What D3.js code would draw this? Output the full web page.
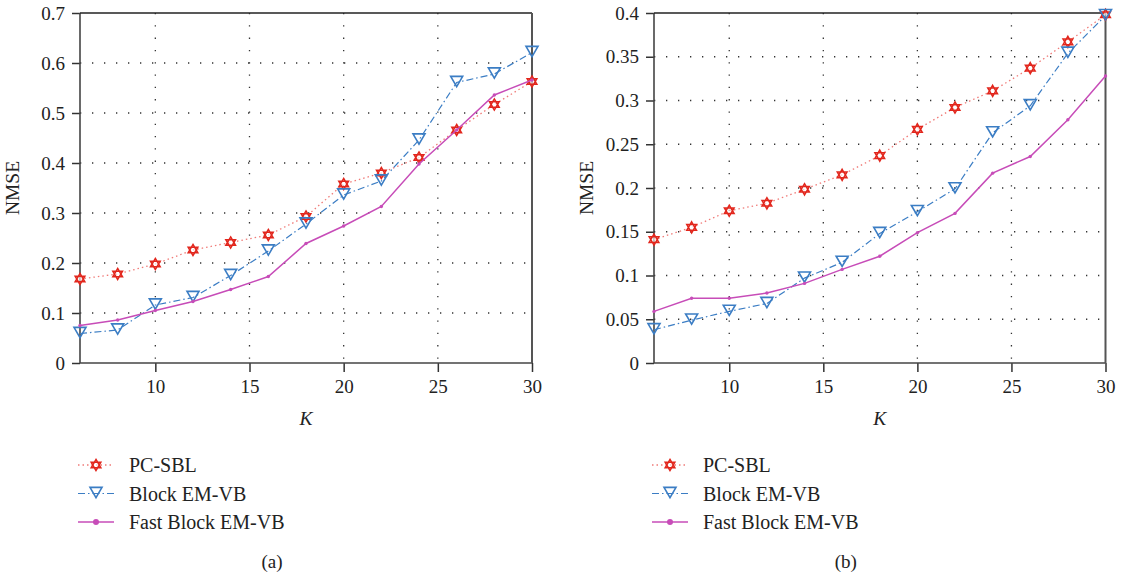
<!DOCTYPE html>
<html>
<head>
<meta charset="utf-8">
<script src="https://cdn.jsdelivr.net/npm/d3@7/dist/d3.min.js"></script>
<style>
  body { margin: 0; background: #fff; }
  svg text { font-family: "Liberation Serif", "DejaVu Serif", serif !important; fill: #222; }
</style>
</head>
<body>
<svg id="chart" width="1124" height="576"></svg>
<script>
// K values (x axis)
var kValues = [6, 8, 10, 12, 14, 16, 18, 20, 22, 24, 26, 28, 30];

// panel (a)
var pcSblA  = [0.168, 0.178, 0.198, 0.226, 0.241, 0.256, 0.293, 0.358, 0.380, 0.411, 0.466, 0.517, 0.563];
var blockA  = [0.059, 0.066, 0.116, 0.131, 0.175, 0.224, 0.278, 0.336, 0.364, 0.446, 0.561, 0.578, 0.621];
var fastA   = [0.075, 0.086, 0.105, 0.123, 0.147, 0.173, 0.239, 0.274, 0.313, 0.398, 0.466, 0.536, 0.566];

// panel (b)
var pcSblB  = [0.141, 0.155, 0.174, 0.1825, 0.1985, 0.215, 0.237, 0.267, 0.292, 0.311, 0.337, 0.367, 0.398];
var blockB  = [0.038, 0.049, 0.059, 0.068, 0.097, 0.115, 0.148, 0.173, 0.199, 0.263, 0.294, 0.354, 0.397];
var fastB   = [0.059, 0.074, 0.074, 0.080, 0.091, 0.107, 0.122, 0.149, 0.171, 0.217, 0.236, 0.278, 0.328];

var xTicks  = [10, 15, 20, 25, 30];
var yTicksA = [0, 0.1, 0.2, 0.3, 0.4, 0.5, 0.6, 0.7];
var yTicksB = [0, 0.05, 0.1, 0.15, 0.2, 0.25, 0.3, 0.35, 0.4];
var seriesNames = ["PC-SBL", "Block EM-VB", "Fast Block EM-VB"];

var FONT = "Liberation Serif, DejaVu Serif, serif";
var svg = d3.select("#chart");

var RED = "#e2261c", RED_LINE = "#f07b78", BLUE = "#3b7dc4", MAGENTA = "#c74cb8";

function hexagram(r) {
  var p = d3.path();
  [[-90, 30, 150], [90, 210, 330]].forEach(function(tri) {
    tri.forEach(function(a, i) {
      var rad = a * Math.PI / 180;
      var x = r * Math.cos(rad), y = r * Math.sin(rad);
      if (i == 0) p.moveTo(x, y); else p.lineTo(x, y);
    });
    p.closePath();
  });
  return p.toString();
}
function triDown(w) {
  var h = w * 0.85;
  return "M" + (-w / 2) + "," + (-h / 2) + "L" + (w / 2) + "," + (-h / 2) + "L0," + (h / 2) + "Z";
}

var styles = [
  { line: RED_LINE, dash: "1.5,3", width: 1.3, marker: function(sel) {
      sel.append("path").attr("d", hexagram(5.6)).attr("fill", "#fff").attr("fill-opacity", 0.6)
        .attr("stroke", RED).attr("stroke-width", 1.5);
  }},
  { line: BLUE, dash: "7,3,1.5,3", width: 1.2, marker: function(sel) {
      sel.append("path").attr("d", triDown(12)).attr("transform", "translate(0,-1)")
        .attr("fill", "none").attr("stroke", BLUE).attr("stroke-width", 1.6);
  }},
  { line: MAGENTA, dash: null, width: 1.5, marker: function(sel) {
      sel.append("circle").attr("r", 1.7).attr("fill", MAGENTA);
  }}
];

function drawPanel(left, right, top, bottom, yMax, yTicks, data, tag) {
  var g = svg.append("g");
  var x = d3.scaleLinear().domain([6, 30]).range([left, right]);
  var y = d3.scaleLinear().domain([0, yMax]).range([bottom, top]);

  // dotted grid
  g.selectAll(".hg").data(yTicks.filter(function(d) { return d > 0 && d < yMax; }))
    .enter().append("line")
    .attr("x1", left).attr("x2", right)
    .attr("y1", function(d) { return y(d); }).attr("y2", function(d) { return y(d); })
    .attr("stroke", "#333").attr("stroke-width", 1.3).attr("stroke-dasharray", "1.3,10.7");
  g.selectAll(".vg").data(xTicks.filter(function(d) { return d < 30; }))
    .enter().append("line")
    .attr("x1", function(d) { return x(d); }).attr("x2", function(d) { return x(d); })
    .attr("y1", top).attr("y2", bottom)
    .attr("stroke", "#333").attr("stroke-width", 1.3).attr("stroke-dasharray", "1.3,11");

  // axes
  var ya = g.append("g").attr("transform", "translate(" + left + ",0)")
    .call(d3.axisLeft(y).tickValues(yTicks).tickSize(8).tickPadding(7)
      .tickFormat(function(d) { return d3.format("")(+d.toFixed(2)); }));
  var xa = g.append("g").attr("transform", "translate(0," + bottom + ")")
    .call(d3.axisBottom(x).tickValues(xTicks).tickSize(9).tickPadding(8));
  [ya, xa].forEach(function(a) {
    a.attr("font-family", FONT).attr("font-size", 19);
    a.select(".domain").remove();
    a.selectAll("line").attr("stroke", "#333").attr("stroke-width", 1.5);
    a.selectAll("text").attr("font-family", FONT).style("font-size", "19px").attr("fill", "#222");
  });
  // frame
  g.append("line").attr("x1", left).attr("x2", left).attr("y1", top).attr("y2", bottom)
    .attr("stroke", "#444").attr("stroke-width", 1.6);
  g.append("line").attr("x1", left).attr("x2", right).attr("y1", bottom).attr("y2", bottom)
    .attr("stroke", "#444").attr("stroke-width", 1.6);
  g.append("line").attr("x1", left).attr("x2", right).attr("y1", top).attr("y2", top)
    .attr("stroke", "#222").attr("stroke-width", 1.5);
  g.append("line").attr("x1", right).attr("x2", right).attr("y1", top).attr("y2", bottom)
    .attr("stroke", "#555").attr("stroke-width", 2);

  // series
  data.forEach(function(vals, i) {
    var st = styles[i];
    var line = d3.line().x(function(d, j) { return x(kValues[j]); }).y(function(d) { return y(d); });
    g.append("path").datum(vals).attr("d", line).attr("fill", "none")
      .attr("stroke", st.line).attr("stroke-width", st.width)
      .attr("stroke-dasharray", st.dash);
    g.selectAll(".m" + i).data(vals).enter().append("g")
      .attr("transform", function(d, j) { return "translate(" + x(kValues[j]) + "," + y(d) + ")"; })
      .each(function() { st.marker(d3.select(this)); });
  });

  // labels
  g.append("text").attr("transform", "translate(" + (left - 61) + "," + ((top + bottom) / 2) + ") rotate(-90)")
    .attr("text-anchor", "middle").attr("font-family", FONT).style("font-size", "19.5px").text("NMSE");
  g.append("text").attr("x", (left + right) / 2).attr("y", 425).attr("text-anchor", "middle")
    .attr("font-family", FONT).style("font-size", "19.5px").style("font-style", "italic").text("K");

  // legend
  var lx = left - 2;
  seriesNames.forEach(function(name, i) {
    var st = styles[i];
    var ly = 465 + i * 28.5;
    g.append("line").attr("x1", lx).attr("x2", lx + 36).attr("y1", ly).attr("y2", ly)
      .attr("stroke", st.line).attr("stroke-width", st.width).attr("stroke-dasharray", st.dash);
    var mk = g.append("g").attr("transform", "translate(" + (lx + 18) + "," + ly + ")");
    st.marker(mk);
    if (i == 2) mk.select("circle").attr("r", 3);
    g.append("text").attr("x", lx + 51).attr("y", ly + 7).attr("font-family", FONT)
      .style("font-size", "20px").text(name);
  });
  g.append("text").attr("x", (left + right) / 2 - 34).attr("y", 568).attr("text-anchor", "middle")
    .attr("font-family", FONT).style("font-size", "19px").text(tag);
}

drawPanel(80, 532, 13, 363, 0.7, yTicksA, [pcSblA, blockA, fastA], "(a)");
drawPanel(654, 1105.5, 13, 363, 0.4, yTicksB, [pcSblB, blockB, fastB], "(b)");
</script>
</body>
</html>
